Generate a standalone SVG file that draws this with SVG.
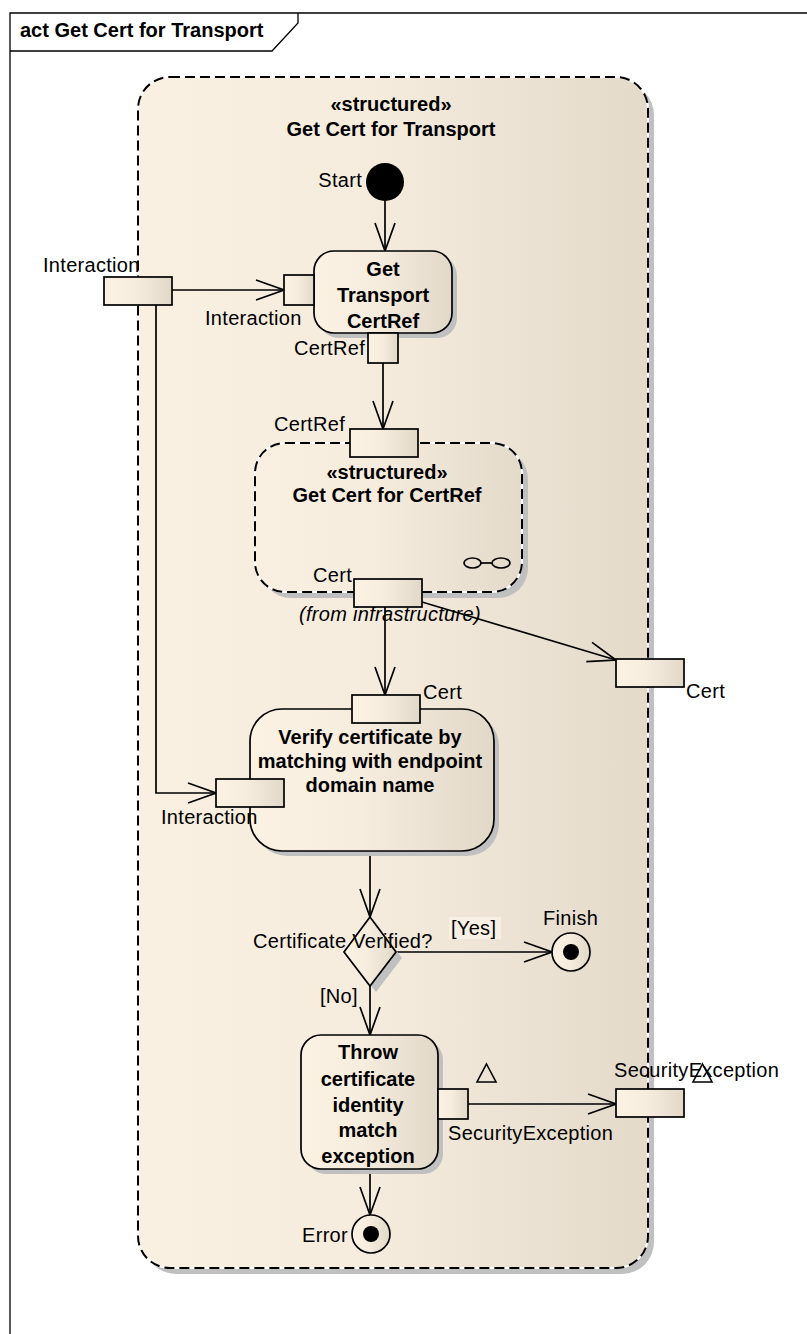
<svg xmlns="http://www.w3.org/2000/svg" width="807" height="1334" viewBox="0 0 807 1334">
  <defs>
    <style>
      text { font-family: "Liberation Sans", Arial, sans-serif; font-size: 20px; fill: #000; letter-spacing: 0.3px; }
      .b { font-weight: bold; letter-spacing: 0; }
      .c { text-anchor: middle; }
      .e { text-anchor: end; }
      .it { font-style: italic; }
      .shadow { fill: #C0C0C0; stroke: none; }
      .node { fill: url(#nodeFill); stroke: #000; stroke-width: 1.7; }
      .pin { fill: url(#nodeFill); stroke: #000; stroke-width: 1.7; }
      .dash { fill: none; stroke: #000; stroke-width: 2; stroke-dasharray: 10 5; }
      .edge { fill: none; stroke: #000; stroke-width: 1.7; marker-end: url(#arrow); }
      .exc { fill: none; stroke: #000; stroke-width: 1.6; }
    </style>
    <linearGradient id="nodeFill" x1="0" y1="0" x2="1" y2="0">
      <stop offset="0" stop-color="#FBF2E4"/>
      <stop offset="0.45" stop-color="#F7EDDF"/>
      <stop offset="1" stop-color="#E2D8C8"/>
    </linearGradient>
    <linearGradient id="regionFill" x1="0" y1="0" x2="1" y2="0">
      <stop offset="0" stop-color="#FAF0E2"/>
      <stop offset="0.45" stop-color="#F6ECDE"/>
      <stop offset="1" stop-color="#E4DACA"/>
    </linearGradient>
    <marker id="arrow" viewBox="-31 -12 33 24" refX="0" refY="0" markerWidth="33" markerHeight="24" markerUnits="userSpaceOnUse" orient="auto">
      <path d="M-28,-10 L0,0 L-28,10" fill="none" stroke="#000" stroke-width="1.7"/>
    </marker>
  </defs>

  <rect width="807" height="1334" fill="#FFFFFF"/>

  <!-- diagram frame with name tab -->
  <g id="frame">
    <path d="M10,1334 V13 H807" fill="none" stroke="#000" stroke-width="1.3"/>
    <path d="M10,51 H272 L298,23 V13" fill="none" stroke="#000" stroke-width="1.3"/>
    <text class="b" x="20" y="37">act Get Cert for Transport</text>
  </g>

  <!-- outer structured activity region -->
  <g id="region-transport">
    <rect class="shadow" x="144" y="83" width="510" height="1191" rx="32"/>
    <rect x="138" y="77" width="510" height="1191" rx="32" fill="url(#regionFill)" stroke="#FFFFFF" stroke-width="2"/>
    <rect class="dash" x="138" y="77" width="510" height="1191" rx="32"/>
    <text class="b c" x="391" y="111">«structured»</text>
    <text class="b c" x="391" y="136">Get Cert for Transport</text>
  </g>

  <!-- connectors -->
  <g id="connectors">
    <line class="edge" x1="385" y1="201" x2="385" y2="251"/>
    <line class="edge" x1="172" y1="290" x2="284" y2="290"/>
    <path class="edge" d="M156,305 V793 H216"/>
    <line class="edge" x1="383" y1="363" x2="383" y2="429"/>
    <line class="edge" x1="385" y1="607" x2="385" y2="695"/>
    <line class="edge" x1="422" y1="602" x2="616" y2="660"/>
    <line class="edge" x1="370" y1="851" x2="370" y2="917"/>
    <line class="edge" x1="396" y1="952" x2="552" y2="952"/>
    <line class="edge" x1="370" y1="986" x2="370" y2="1035"/>
    <line class="edge" x1="468" y1="1104" x2="616" y2="1104"/>
    <line class="edge" x1="370" y1="1169" x2="370" y2="1215"/>
  </g>

  <!-- initial node -->
  <g id="start">
    <circle cx="385" cy="182" r="19" fill="#000"/>
    <text class="e" x="362" y="187">Start</text>
  </g>

  <!-- action: Get Transport CertRef -->
  <g id="get-transport-certref">
    <rect class="shadow" x="319" y="256" width="138" height="82" rx="20"/>
    <rect class="node" x="314" y="251" width="138" height="82" rx="20"/>
    <text class="b c" x="383" y="276">Get</text>
    <text class="b c" x="383" y="302">Transport</text>
    <text class="b c" x="383" y="328">CertRef</text>
  </g>

  <!-- nested structured activity: Get Cert for CertRef -->
  <g id="get-cert-for-certref">
    <rect class="shadow" x="261" y="449" width="267" height="149" rx="30"/>
    <rect x="255" y="443" width="267" height="149" rx="30" fill="url(#regionFill)" stroke="#FFFFFF" stroke-width="2"/>
    <rect class="dash" x="255" y="443" width="267" height="149" rx="30"/>
    <text class="b c" x="387" y="479">«structured»</text>
    <text class="b c" x="387" y="502">Get Cert for CertRef</text>
    <ellipse cx="472.5" cy="563" rx="8.5" ry="5" fill="none" stroke="#000" stroke-width="1.7"/>
    <line x1="481" y1="563" x2="492" y2="563" stroke="#000" stroke-width="1.7"/>
    <ellipse cx="501" cy="563" rx="9" ry="5" fill="none" stroke="#000" stroke-width="1.7"/>
    <text class="it" x="299" y="621">(from infrastructure)</text>
  </g>

  <!-- action: Verify certificate -->
  <g id="verify-certificate">
    <rect class="shadow" x="255" y="714" width="244" height="142" rx="32"/>
    <rect class="node" x="250" y="709" width="244" height="142" rx="32"/>
    <text class="b c" x="370" y="744">Verify certificate by</text>
    <text class="b c" x="370" y="768">matching with endpoint</text>
    <text class="b c" x="370" y="792">domain name</text>
  </g>

  <!-- decision -->
  <g id="decision">
    <polygon class="shadow" points="376,923 402,958 376,992 350,958"/>
    <polygon class="node" points="370,917 396,952 370,986 344,952"/>
    <text x="253" y="948">Certificate Verified?</text>
    <rect x="449" y="917" width="52" height="22" fill="#F8F0E4"/>
    <text x="451" y="935">[Yes]</text>
    <text x="320" y="1003">[No]</text>
  </g>

  <!-- final node: Finish -->
  <g id="finish">
    <circle class="node" cx="571" cy="952" r="19"/>
    <circle cx="571" cy="952" r="8" fill="#000"/>
    <text x="543" y="925">Finish</text>
  </g>

  <!-- action: Throw certificate identity match exception -->
  <g id="throw-exception">
    <rect class="shadow" x="306" y="1040" width="137" height="134" rx="20"/>
    <rect class="node" x="301" y="1035" width="137" height="134" rx="20"/>
    <text class="b c" x="368" y="1059">Throw</text>
    <text class="b c" x="368" y="1086">certificate</text>
    <text class="b c" x="368" y="1112">identity</text>
    <text class="b c" x="368" y="1137">match</text>
    <text class="b c" x="368" y="1163">exception</text>
  </g>

  <!-- final node: Error -->
  <g id="error">
    <circle class="node" cx="371" cy="1234" r="19"/>
    <circle cx="371" cy="1234" r="8" fill="#000"/>
    <text class="e" x="348" y="1242">Error</text>
  </g>

  <!-- pins -->
  <g id="pin-interaction-param">
    <rect class="pin" x="104" y="277" width="68" height="28"/>
    <text x="43" y="272">Interaction</text>
  </g>
  <g id="pin-interaction-get">
    <rect class="pin" x="284" y="275" width="30" height="30"/>
    <text x="205" y="325">Interaction</text>
  </g>
  <g id="pin-certref-out">
    <rect class="pin" x="368" y="333" width="30" height="30"/>
    <text class="e" x="365" y="355">CertRef</text>
  </g>
  <g id="pin-certref-in">
    <rect class="pin" x="350" y="429" width="68" height="28"/>
    <text class="e" x="345" y="431">CertRef</text>
  </g>
  <g id="pin-cert-out">
    <rect class="pin" x="354" y="579" width="68" height="28"/>
    <text class="e" x="352" y="582">Cert</text>
  </g>
  <g id="pin-cert-param">
    <rect class="pin" x="616" y="659" width="68" height="28"/>
    <text x="686" y="698">Cert</text>
  </g>
  <g id="pin-cert-verify">
    <rect class="pin" x="352" y="695" width="68" height="28"/>
    <text x="423" y="699">Cert</text>
  </g>
  <g id="pin-interaction-verify">
    <rect class="pin" x="216" y="779" width="68" height="28"/>
    <text x="161" y="824">Interaction</text>
  </g>
  <g id="pin-securityexception-out">
    <rect class="pin" x="438" y="1089" width="30" height="30"/>
    <polygon class="exc" points="486.5,1064 496,1082 477,1082"/>
    <text x="448" y="1140">SecurityException</text>
  </g>
  <g id="pin-securityexception-param">
    <rect class="pin" x="616" y="1089" width="68" height="28"/>
    <text x="614" y="1077">SecurityException</text>
    <polygon class="exc" points="702.5,1064 712,1082 693,1082"/>
  </g>
</svg>
